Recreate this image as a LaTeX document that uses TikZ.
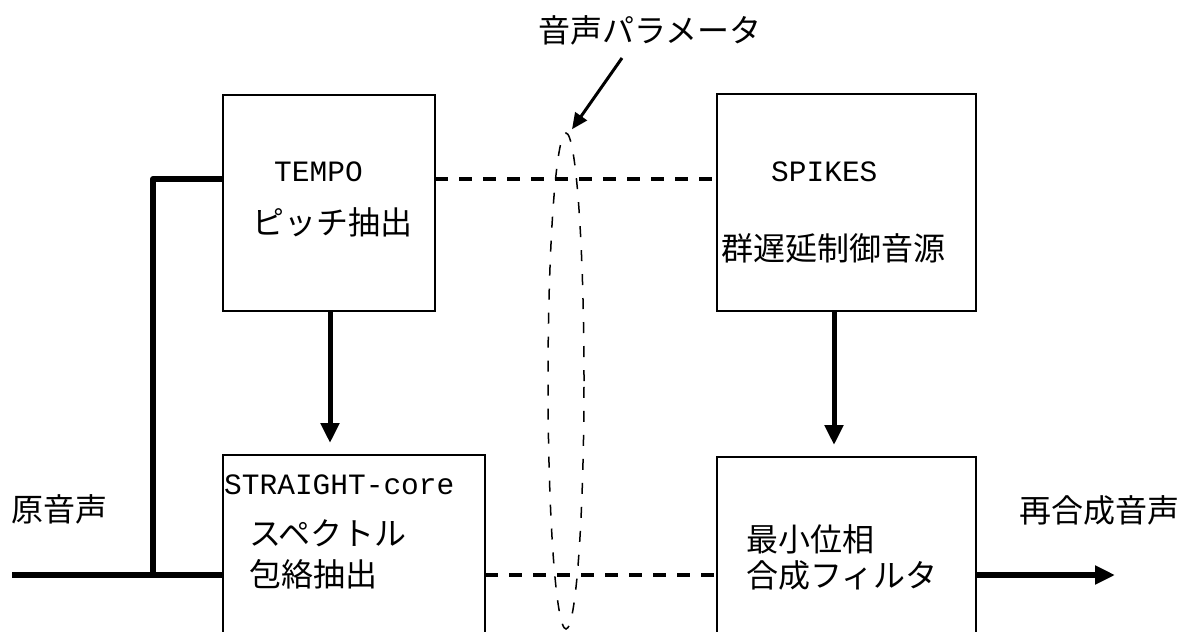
\documentclass[tikz,border=0pt]{standalone}
\usepackage{fontspec}
\newfontfamily\jpfont{Noto Sans CJK JP}
\newfontfamily\monofont{Liberation Mono}
\usetikzlibrary{arrows.meta,shapes.geometric,calc}
\begin{document}
\begin{tikzpicture}[x=1pt,y=-1pt,
  box/.style={draw,line width=2.7pt,inner sep=0pt,outer sep=0pt},
  jp/.style={inner sep=0pt,anchor=west,font=\jpfont\fontsize{32}{38}\selectfont},
  mono/.style={inner sep=0pt,anchor=west,font=\monofont\fontsize{29.5}{34}\selectfont},
  thick line/.style={line width=6pt},
  down arrow/.style={line width=5pt,-{Triangle[length=20pt,width=18pt]},shorten >=12pt},
  dashline/.style={line width=3.5pt,dash pattern=on 13pt off 11pt},
  ]
\useasboundingbox (0,0) rectangle (1184,632);
\clip (0,0) rectangle (1184,632);
% boxes
\node[box,minimum width=212pt,minimum height=216pt] (tl) at (329,203) {};
\node[box,minimum width=259pt,minimum height=217pt] (tr) at (846.5,202.5) {};
\node[box,minimum width=262pt,minimum height=250pt] (bl) at (354,580) {};
\node[box,minimum width=259pt,minimum height=250pt] (br) at (846.5,582) {};
% ellipse
\node[draw,ellipse,line width=1.5pt,dash pattern=on 11pt off 13pt,minimum width=36pt,minimum height=496pt,inner sep=0pt] (ell) at (566,381) {};
% texts
\node[jp,anchor=center] (param) at (650,30) {音声パラメータ};
\node[mono] (tempo) at (274,172) {TEMPO};
\node[jp] (pitch) at (252,222) {ピッチ抽出};
\node[mono] (spikes) at (771,172) {SPIKES};
\node[jp] (gd) at (721,248) {群遅延制御音源};
\node[mono] (straight) at (224,485) {STRAIGHT-core};
\node[jp] (spec1) at (249,533) {スペクトル};
\node[jp] (spec2) at (249,574) {包絡抽出};
\node[jp] (mp1) at (746,539) {最小位相};
\node[jp] (mp2) at (746,575) {合成フィルタ};
\node[jp] (orig) at (11,509) {原音声};
\node[jp] (resyn) at (1019,510) {再合成音声};
% input path
\coordinate (in) at (12,575);
\coordinate (jbot) at (153,575);
\coordinate (jtop) at (153,179);
\draw[thick line] (in) -- (jbot -| bl.west);
\draw[thick line,line join=round] (jbot) -- (jtop) -- (jtop -| tl.west);
% dashed parameter lines
\draw[dashline] (jtop -| tl.east) -- (jtop -| tr.west);
\draw[dashline] (jbot -| bl.east) -- (jbot -| br.west);
% vertical arrows
\draw[down arrow] ([xshift=1pt]tl.south) -- ([xshift=1pt]tl.south |- bl.north);
\draw[down arrow] ([xshift=-12.5pt]tr.south) -- ([xshift=-12.5pt]tr.south |- br.north);
% output arrow
\coordinate (out) at (1115,575);
\draw[thick line,-{Triangle[length=20pt,width=18pt]}] (out -| br.east) -- (out);
% parameter pointer
\coordinate (pa) at (622,58);
\draw[line width=3pt,-{Triangle[length=16pt,width=14pt]}] (pa) -- ([xshift=6pt,yshift=3pt]ell.north);
\end{tikzpicture}
\end{document}
